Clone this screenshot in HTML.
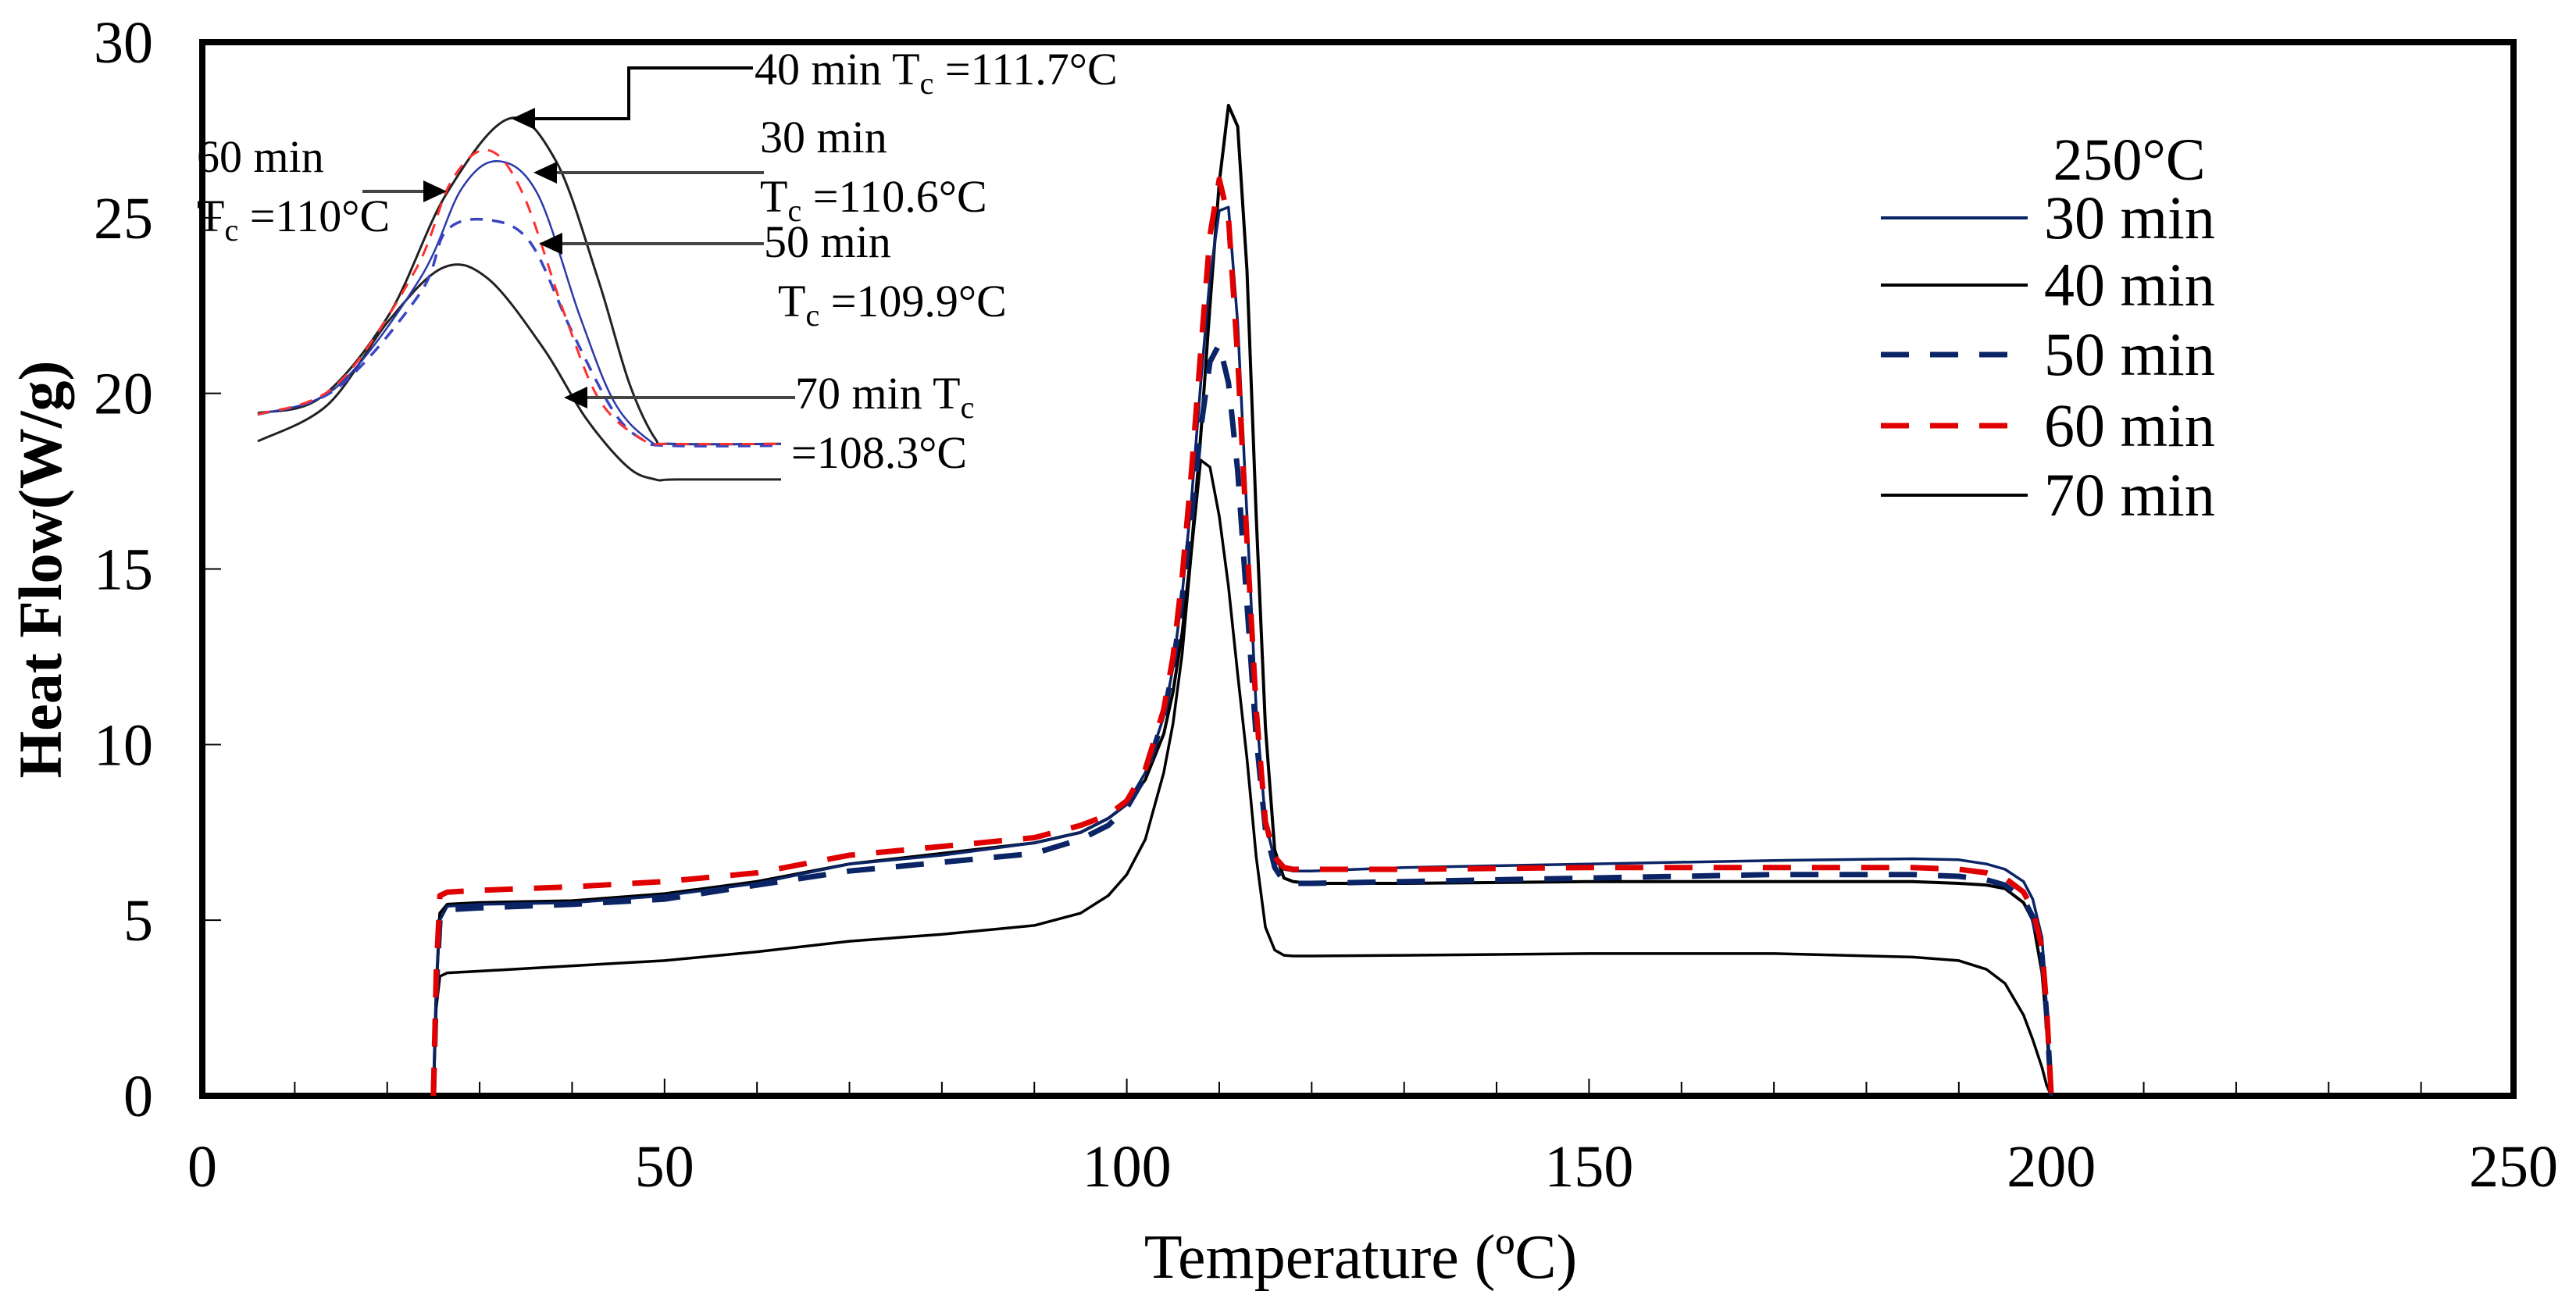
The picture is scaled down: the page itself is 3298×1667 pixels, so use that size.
<!DOCTYPE html>
<html><head><meta charset="utf-8"><style>
html,body{margin:0;padding:0;background:#fff;}
svg{display:block;font-family:"Liberation Serif",serif;}
</style></head><body>
<svg id="chart" width="3298" height="1667" viewBox="0 0 3298 1667" xmlns="http://www.w3.org/2000/svg">
<g id="axes"></g>
<g id="series"></g>
<g id="inset"></g>
<g id="annot"></g>
<g id="legend"></g>
</svg>
<script>
// ---- main chart data ----
const temps = [25,25.3,25.7,26.5,30,40,50,60,70,80,90,95,98,100,102,104,105,106,107,108,109,110,111,112,113,114,115,116,117,118,120,130,150,170,185,190,193,195,197,198,199,199.5,200];
const flow30 = [0,3,5.0,5.4,5.45,5.5,5.7,6.05,6.6,6.85,7.2,7.5,7.9,8.3,9.2,10.8,12.2,14.3,17.0,20.3,23.3,25.2,25.3,22.0,16.5,11.0,7.8,6.7,6.45,6.4,6.4,6.5,6.6,6.7,6.75,6.72,6.6,6.45,6.1,5.6,4.5,2.5,0];
const flow40 = [0,3,5.2,5.45,5.5,5.55,5.75,6.1,6.6,6.9,7.2,7.5,7.9,8.3,9.0,10.3,11.5,13.2,15.6,18.8,22.5,26.0,28.2,27.6,23.5,16.5,10.5,7.0,6.2,6.1,6.05,6.05,6.1,6.1,6.1,6.05,6.0,5.9,5.5,5.0,3.5,2,0];
const flow50 = [0,3,5.0,5.3,5.35,5.45,5.6,6.0,6.4,6.65,6.9,7.3,7.7,8.2,9.1,10.8,12.2,14.2,16.5,19.0,20.9,21.4,20.3,17.8,14.0,10.2,7.6,6.5,6.1,6.05,6.05,6.1,6.2,6.3,6.3,6.25,6.15,6.0,5.6,5.1,4.0,2.3,0];
const flow60 = [0,3.5,5.7,5.8,5.85,5.95,6.1,6.35,6.85,7.1,7.35,7.7,8.0,8.4,9.3,11.0,12.5,14.8,17.8,21.2,24.5,26.1,25.0,21.0,15.8,11.0,7.8,6.8,6.5,6.45,6.45,6.45,6.5,6.5,6.5,6.45,6.35,6.2,5.8,5.3,4.2,2.5,0];
const flow70 = [0,2.5,3.4,3.5,3.55,3.7,3.85,4.1,4.4,4.6,4.85,5.2,5.7,6.3,7.3,9.2,10.6,12.6,15.5,18.1,17.9,16.5,14.5,12.0,9.6,6.8,4.8,4.15,4.0,3.98,3.98,4.0,4.05,4.05,3.95,3.85,3.6,3.2,2.3,1.6,0.8,0.3,0];
const xTicks = [0,50,100,150,200,250];
const yTicks = [0,5,10,15,20,25,30];
const seriesNames = ["30 min","40 min","50 min","60 min","70 min"];
// ---- inset data (relative units) ----
const insetU30 = [0,15,31,39,46,53.5,61.5,68,74.5,79,100];
const insetW30 = [19,26.4,56,80.6,88,79,46,22.7,12.3,11,11];
const insetU40 = [0,12,25,36,48,57,65,71,76,79,100];
const insetW40 = [19.4,23.6,46,79,99.6,88,56,27.5,12.3,11,11];
const insetU50 = [0,15,31,36,44,52,60,68,73.7,79,100];
const insetW50 = [19,26,52,69,72,66,41.7,19.8,12,10.5,10.5];
const insetU60 = [0,15,30,37,44,50.7,58.7,65.4,73.7,79,100];
const insetW60 = [19,27,58,82.6,91,79,46,22.7,12,11,11];
const insetU70 = [0,13.4,25,35.4,44,54.6,62.7,70.7,76,80,100];
const insetW70 = [11.7,21.7,44.5,59,56,37,18,4.7,1.3,1.3,1.3];

const NS="http://www.w3.org/2000/svg";
function mk(tag,attrs,parent){const e=document.createElementNS(NS,tag);for(const k in attrs)e.setAttribute(k,attrs[k]);parent.appendChild(e);return e;}
function smoothPath(P){
  let d='M'+P[0][0].toFixed(1)+','+P[0][1].toFixed(1);
  for(let i=0;i<P.length-1;i++){
    const p0=P[i-1]||P[i],p1=P[i],p2=P[i+1],p3=P[i+2]||P[i+1];
    const c1=[p1[0]+(p2[0]-p0[0])/6,p1[1]+(p2[1]-p0[1])/6];
    const c2=[p2[0]-(p3[0]-p1[0])/6,p2[1]-(p3[1]-p1[1])/6];
    d+=' C'+c1[0].toFixed(1)+','+c1[1].toFixed(1)+' '+c2[0].toFixed(1)+','+c2[1].toFixed(1)+' '+p2[0].toFixed(1)+','+p2[1].toFixed(1);
  }
  return d;
}
const L=259,R=3218,T=54,B=1403;
const xs=t=>L+(t-0)*(R-L)/250;
const ys=v=>B-(v-0)*(B-T)/30;
const ix=u=>330+u*6.7;
const iy=w=>620-w*4.7;

const axes=document.getElementById('axes');
for(let t=10;t<250;t+=10){
  const len=(t%50===0)?22:18;
  const tk=mk('line',{x1:xs(t),x2:xs(t),y1:B,y2:B-len,stroke:'#000','stroke-width':2},axes);
  
  
}
yTicks.forEach(v=>{
  if(v>0&&v<30){
    const tk=mk('line',{x1:L,x2:L+24,y1:ys(v),y2:ys(v),stroke:'#000','stroke-width':2},axes);
    
    
  }
  const lb=mk('text',{x:196,y:ys(v)+26,'text-anchor':'end','font-size':76},axes);
  lb.textContent=v;
  
  
});
xTicks.forEach(t=>{
  const lb=mk('text',{x:xs(t),y:1519,'text-anchor':'middle','font-size':76},axes);
  lb.textContent=t;
  
  
});
const frame=mk('rect',{x:L,y:T,width:R-L,height:B-T,fill:'none',stroke:'#000','stroke-width':8},axes);


const xt=mk('text',{x:1742,y:1636,'text-anchor':'middle','font-size':80},axes);
xt.textContent='Temperature (ºC)';


const yt=mk('text',{x:0,y:0,'text-anchor':'middle','font-size':78,'font-weight':'bold',transform:'translate(78,729) rotate(-90)'},axes);
yt.textContent='Heat Flow(W/g)';



const styles=[
 {c:'#0a2466',w:3.5,d:null},
 {c:'#000',w:4,d:null},
 {c:'#0a2466',w:7,d:'36 27'},
 {c:'#e00000',w:7,d:'36 27'},
 {c:'#000',w:3.5,d:null}];
const flows=[flow30,flow40,flow50,flow60,flow70];
const sg=document.getElementById('series');
[4,1,0,2,3].forEach(i=>{
  const pts=temps.map((t,j)=>xs(t).toFixed(1)+','+ys(flows[i][j]).toFixed(1)).join(' ');
  const a={points:pts,fill:'none',stroke:styles[i].c,'stroke-width':styles[i].w,'stroke-linejoin':'round'};
  if(styles[i].d)a['stroke-dasharray']=styles[i].d;
  const p=mk('polyline',a,sg);
  
  
});

const ig=document.getElementById('inset');
const insetU=[insetU30,insetU40,insetU50,insetU60,insetU70];
const insetW=[insetW30,insetW40,insetW50,insetW60,insetW70];
const istyles=[
 {c:'#2a3aa8',w:2.5,d:null},
 {c:'#222',w:3,d:null},
 {c:'#3a46c0',w:3.5,d:'16 12'},
 {c:'#ff3030',w:3,d:'16 12'},
 {c:'#222',w:3,d:null}];
[4,1,0,2,3].forEach(i=>{
  const P=insetU[i].map((u,j)=>[ix(u),iy(insetW[i][j])]);
  const a={d:smoothPath(P),fill:'none',stroke:istyles[i].c,'stroke-width':istyles[i].w,'stroke-linejoin':'round'};
  if(istyles[i].d)a['stroke-dasharray']=istyles[i].d;
  const p=mk('path',a,ig);
  
  
});

const an=document.getElementById('annot');
function arrowHead(x,y,dir){
  const h=mk('polygon',{points: dir<0 ? `${x},${y} ${x+30},${y-14} ${x+30},${y+14}` : `${x},${y} ${x-30},${y-14} ${x-30},${y+14}`,fill:'#000'},an);
  
  
}
const a40=mk('polyline',{points:'964,87 805,87 805,152 670,152',fill:'none',stroke:'#000','stroke-width':4},an);


arrowHead(655,152,-1);
[[978,221,683],[978,312,690],[1018,509,722]].forEach(r=>{
  const l=mk('line',{x1:r[0],y1:r[1],x2:r[2]+20,y2:r[1],stroke:'#444','stroke-width':4},an);
  
  
  arrowHead(r[2],r[1],-1);
});
const l60=mk('line',{x1:464,y1:245,x2:555,y2:245,stroke:'#444','stroke-width':4},an);


arrowHead(572,245,1);
function label(x,y,html,name){
  const t=mk('text',{x:x,y:y,'font-size':58},an);
  t.innerHTML=html;
  
  
}
const Tc='T<tspan font-size="40" dy="12">c</tspan><tspan dy="-12"> </tspan>';
label(966,108,'40 min '+Tc+'=111.7°C','label-40min');
label(973,195,'30 min','label-30min');
label(973,271,Tc+'=110.6°C','label-30min-tc');
label(978,329,'50 min','label-50min');
label(996,405,Tc+'=109.9°C','label-50min-tc');
label(1018,523,'70 min '+Tc,'label-70min');
label(1013,599,'=108.3°C','label-70min-tc');
label(252,220,'60 min','label-60min');
label(252,296,Tc+'=110°C','label-60min-tc');

const lg=document.getElementById('legend');
const lt=mk('text',{x:2726,y:230,'text-anchor':'middle','font-size':76},lg);
lt.textContent='250°C';


const ly=[279,365,454,545,634];
seriesNames.forEach((n,i)=>{
  const a={x1:2408,x2:2596,y1:ly[i],y2:ly[i],stroke:styles[i].c,'stroke-width':styles[i].d?7:4};
  if(styles[i].d){a['stroke-dasharray']='36 27';a.x2=2570;}
  const ln=mk('line',a,lg);
  
  
  const tx=mk('text',{x:2617,y:ly[i]+26,'font-size':78},lg);
  tx.textContent=n;
  
  
});
</script>
</body></html>
